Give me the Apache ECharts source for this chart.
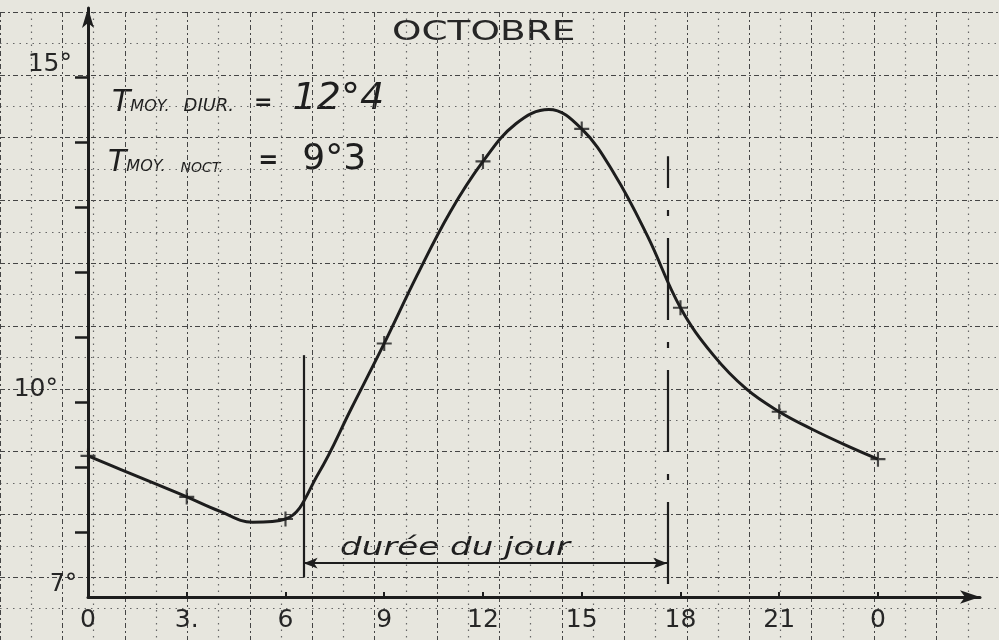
<!DOCTYPE html>
<html>
<head>
<meta charset="utf-8">
<title>Octobre – température horaire</title>
<script src="https://cdn.jsdelivr.net/npm/echarts@6/dist/echarts.min.js"></script>
<style>
  html, body { margin: 0; padding: 0; background: #e7e6de; }
  #chart { width: 999px; height: 640px; }
</style>
</head>
<body>
<div id="chart"></div>
<script>
// Hourly air temperature (°C) over one October day, hour 0 to hour 24
const hours = [0, 1, 2, 3, 4, 5, 6, 7, 8, 9, 10, 11, 12, 13, 14, 15, 16, 17, 18, 19, 20, 21, 22, 23, 24];
const temps = [9.17, 8.96, 8.75, 8.54, 8.32, 8.15, 8.20, 8.90, 9.90, 10.90, 11.95, 12.92, 13.70,
               14.28, 14.50, 14.20, 13.50, 12.55, 11.45, 10.72, 10.20, 9.85, 9.58, 9.34, 9.12];

// Hours marked with a cross on the curve
const markedHours = [0, 3, 6, 9, 12, 15, 18, 21, 24];

// Axis ticks and labels
const hourTicks = [0, 3, 6, 9, 12, 15, 18, 21, 24];
const hourTickLabels = ['0', '3.', '6', '9', '12', '15', '18', '21', '0'];
const tempTicks = [8, 9, 10, 11, 12, 13, 14, 15];
const tempLabelValues = [7, 10, 15];
const tempLabels = ['7°', '10°', '15°'];

// Daylight span (sunrise / sunset hour) and the temperature levels of its bracket lines
const dayStart = 6.55;
const dayEnd = 17.6;
const sunriseLine = [7.3, 10.72];
const sunsetLine = [7.2, 13.78];
const dayArrowLevel = 7.52;

// Texts
const titleText = 'OCTOBRE';
const dayLabel = 'durée du jour';
const meanDay = '12°4';
const meanNight = '9°3';

const INK = '#1d1d1d';
const FONT = '"DejaVu Sans", "Liberation Sans", sans-serif';
const PLUS = 'path://M0,6H14V8H0Z M6,0H8V14H6Z';

const chart = echarts.init(document.getElementById('chart'), null, { renderer: 'canvas' });

const majorGrid = { show: true, lineStyle: { color: '#454545', width: 1, type: [5, 3, 2, 3] } };
const minorGrid = { show: true, lineStyle: { color: '#666', width: 1.2, type: [1.5, 5] } };

const curve = hours.map((h, i) => [h, temps[i]]);
const crosses = markedHours.map(h => [h, temps[hours.indexOf(h)]]);

// rich-text token for the hand-lettered annotations
const tok = (size, extra) => Object.assign({
  fontFamily: FONT, fontStyle: 'italic', fontSize: size, lineHeight: 38,
  verticalAlign: 'bottom', fill: '#1e1e1e'
}, extra || {});

const option = {
  backgroundColor: '#e7e6de',
  animation: false,
  grid: [
    // squared paper: 1 cell = 1 hour x 0.5 degree
    { left: -43.68, right: -10.76, top: 12, bottom: -22 },
    // plotted axes
    { left: 88, right: 19, top: 8, bottom: 43 }
  ],
  xAxis: [
    {
      gridIndex: 0, type: 'value', min: -4, max: 28, interval: 2,
      axisLine: { show: false }, axisTick: { show: false }, axisLabel: { show: false },
      splitLine: majorGrid,
      minorTick: { show: false, splitNumber: 2 },
      minorSplitLine: minorGrid
    },
    {
      gridIndex: 1, type: 'value', min: 0, max: 27.1,
      splitLine: { show: false },
      axisLine: {
        show: true, onZero: false,
        lineStyle: { color: INK, width: 3 },
        symbol: ['none', 'arrow'], symbolSize: [10, 20]
      },
      axisTick: {
        show: true, customValues: hourTicks, length: 5, inside: true,
        lineStyle: { color: INK, width: 2 }
      },
      axisLabel: {
        show: true, customValues: hourTicks, margin: 11,
        color: '#262626', fontFamily: FONT, fontSize: 25,
        formatter: v => hourTickLabels[hourTicks.indexOf(v)]
      }
    }
  ],
  yAxis: [
    {
      gridIndex: 0, type: 'value', min: 6, max: 16, interval: 1,
      axisLine: { show: false }, axisTick: { show: false }, axisLabel: { show: false },
      splitLine: majorGrid,
      minorTick: { show: false, splitNumber: 2 },
      minorSplitLine: minorGrid
    },
    {
      gridIndex: 1, type: 'value', min: 7, max: 16.06,
      splitLine: { show: false },
      axisLine: {
        show: true, onZero: false,
        lineStyle: { color: INK, width: 3 },
        symbol: ['none', 'arrow'], symbolSize: [9, 20]
      },
      axisTick: {
        show: true, customValues: tempTicks, length: 13,
        lineStyle: { color: INK, width: 2.5 }
      },
      axisLabel: {
        show: true, customValues: tempLabelValues, margin: 11,
        verticalAlign: 'bottom',
        color: '#262626', fontFamily: FONT, fontSize: 25,
        formatter: v => '{l' + v + '|' + tempLabels[tempLabelValues.indexOf(v)] + '}',
        rich: {
          l7:  { fontFamily: FONT, fontSize: 24, color: '#262626' },
          l10: { fontFamily: FONT, fontSize: 25, color: '#262626', padding: [0, 19, 0, 0] },
          l15: { fontFamily: FONT, fontSize: 25, color: '#262626', padding: [0, 5, 0, 0] }
        }
      }
    }
  ],
  series: [
    {
      type: 'line',
      xAxisIndex: 1, yAxisIndex: 1,
      data: curve,
      smooth: 0.4,
      showSymbol: false,
      lineStyle: { color: INK, width: 3 },
      z: 3,
      markLine: {
        silent: true,
        symbol: ['none', 'none'],
        label: { show: false },
        lineStyle: { color: INK, width: 2.2, type: 'solid' },
        data: [
          [{ coord: [dayStart, sunriseLine[0]] }, { coord: [dayStart, sunriseLine[1]] }],
          [
            { coord: [dayEnd, sunsetLine[0]], lineStyle: { color: INK, width: 2.2, type: [82, 22, 6, 22] } },
            { coord: [dayEnd, sunsetLine[1]] }
          ],
          [
            { coord: [dayStart, dayArrowLevel], symbol: 'arrow', symbolSize: [8, 14] },
            { coord: [dayEnd, dayArrowLevel], symbol: 'arrow', symbolSize: [8, 14] }
          ]
        ]
      }
    },
    {
      type: 'scatter',
      xAxisIndex: 1, yAxisIndex: 1,
      data: crosses,
      symbol: PLUS,
      symbolSize: 15,
      itemStyle: { color: INK },
      z: 4
    }
  ],
  graphic: [
    {
      type: 'text', x: 392, y: 33, scaleX: 1.44, silent: true,
      style: {
        text: titleText, fill: '#262626', fontFamily: FONT, fontSize: 26,
        align: 'left', verticalAlign: 'middle'
      }
    },
    {
      type: 'text', x: 112, y: 118, silent: true,
      style: {
        text: '{T|T}{s|MOY.}{g|DIUR.}{e|=}{n|' + meanDay + '}',
        fill: '#1e1e1e', align: 'left', verticalAlign: 'bottom',
        rich: {
          T: tok(30),
          s: tok(16, { padding: [0, 0, 3, 0] }),
          g: tok(18, { padding: [0, 0, 3, 14] }),
          e: tok(22, { fontStyle: 'normal', fontWeight: 'bold', padding: [0, 0, 4, 20] }),
          n: tok(38, { padding: [0, 0, 0, 20] })
        }
      }
    },
    {
      type: 'text', x: 108, y: 178, silent: true,
      style: {
        text: '{T|T}{s|MOY.}{g|NOCT.}{e|=}{n|' + meanNight + '}',
        fill: '#1e1e1e', align: 'left', verticalAlign: 'bottom',
        rich: {
          T: tok(30),
          s: tok(16, { padding: [0, 0, 3, 0] }),
          g: tok(14, { padding: [0, 0, 3, 15] }),
          e: tok(24, { fontStyle: 'normal', fontWeight: 'bold', padding: [0, 0, 4, 35] }),
          n: tok(36, { fontStyle: 'normal', padding: [0, 0, 0, 24] })
        }
      }
    },
    {
      type: 'text', x: 340, y: 549, scaleX: 1.42, silent: true,
      style: {
        text: dayLabel, fill: '#1e1e1e', fontFamily: FONT, fontStyle: 'italic', fontSize: 24,
        align: 'left', verticalAlign: 'middle'
      }
    }
  ]
};

chart.setOption(option);
</script>
</body>
</html>
